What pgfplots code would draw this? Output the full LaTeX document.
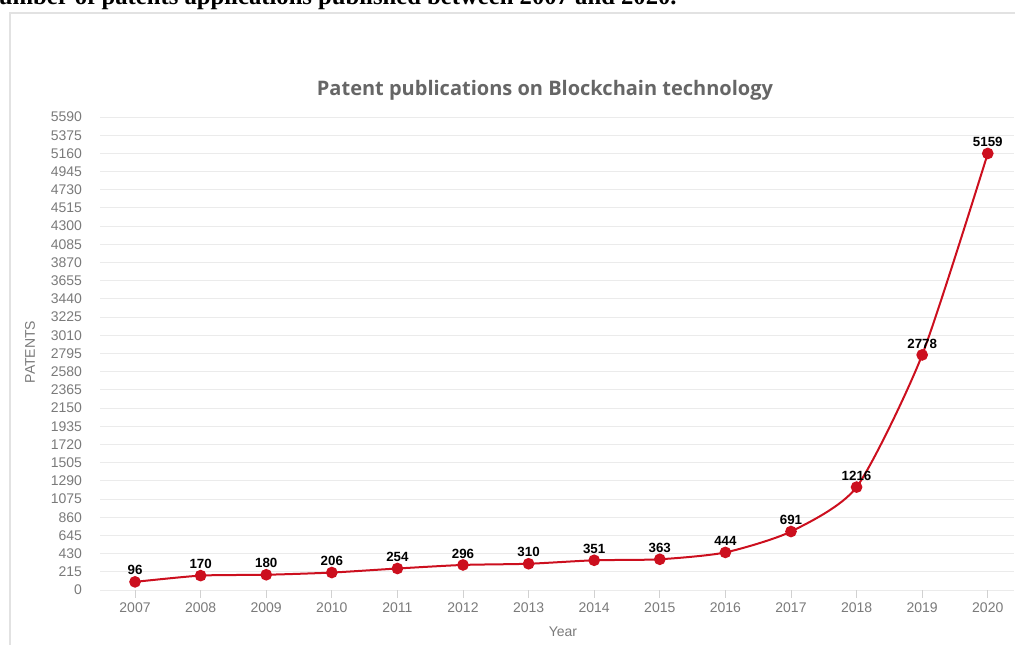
\documentclass[border=0pt]{standalone}
\usepackage{fontspec}
\setmainfont{Liberation Sans}
\newfontfamily\titlefont{Open Sans}
\newfontfamily\capfont{Liberation Serif}
\usepackage{pgfplots}
\pgfplotsset{compat=1.18}
\definecolor{linered}{HTML}{CC0F1E}
\definecolor{labelgray}{HTML}{7A7A7A}
\definecolor{titlegray}{HTML}{666666}
\definecolor{gridgray}{HTML}{EBEBEB}
\definecolor{framegray}{HTML}{E2E2E2}

\begin{document}
\begin{tikzpicture}
% canvas 1015x645 px at 0.75pt per px
\useasboundingbox (0,0) rectangle (761.25pt,483.75pt);

% caption cut off at top, as in the screenshot
\node[anchor=base west, inner sep=0pt, font=\capfont\bfseries\fontsize{18.5}{22}\selectfont]
  at (-1pt,480pt) {umber of patents applications published between 2007 and 2020.};

% frame of the screenshot
\draw[framegray, line width=2pt] (7.5pt,-10pt) -- (7.5pt,474pt) -- (780pt,474pt);

\begin{axis}[
    at={(75pt,41.25pt)}, anchor=south west,
    scale only axis,
    width=685.5pt, height=354.75pt,
    xmin=2006.466, xmax=2020.4,
    ymin=0, ymax=5590,
    xtick={2007,2008,2009,2010,2011,2012,2013,2014,2015,2016,2017,2018,2019,2020},
    xticklabels={2007,2008,2009,2010,2011,2012,2013,2014,2015,2016,2017,2018,2019,2020},
    ytick={0,215,...,5590},
    /pgf/number format/1000 sep={},
    /pgf/number format/assume math mode=true,
    ymajorgrids,
    grid style={gridgray, line width=0.7pt},
    axis line style={draw=none},
    tick align=outside,
    xtick pos=bottom,
    major tick length=6pt,
    xtick style={draw=black!18, line width=0.6pt},
    ytick style={draw=none},
    ticklabel style={font=\fontsize{10.5}{12}\selectfont, text=labelgray},
    yticklabel style={anchor=east, xshift=-4pt},
    nodes near coords,
    nodes near coords style={font=\bfseries\fontsize{10}{12}\selectfont, text=black, anchor=south, yshift=1pt},
    clip=false,
  ]
  \addplot[linered, line width=1.5pt, smooth, tension=0.4,
           mark=*, mark size=3.6pt, mark options={fill=linered, draw=linered}]
    coordinates {
    (2007,96) (2008,170) (2009,180) (2010,206) (2011,254) (2012,296) (2013,310)
    (2014,351) (2015,363) (2016,444) (2017,691) (2018,1216) (2019,2778) (2020,5159)
  };
\end{axis}

\node[font=\titlefont\bfseries\fontsize{15}{18}\selectfont, text=titlegray]
  at (408.75pt,416.25pt) {Patent publications on Blockchain technology};
\node[rotate=90, font=\fontsize{10.5}{12}\selectfont, text=labelgray]
  at (22.5pt,219.75pt) {PATENTS};
\node[font=\fontsize{10.5}{12}\selectfont, text=labelgray]
  at (422.25pt,9.75pt) {Year};
\end{tikzpicture}
\end{document}
